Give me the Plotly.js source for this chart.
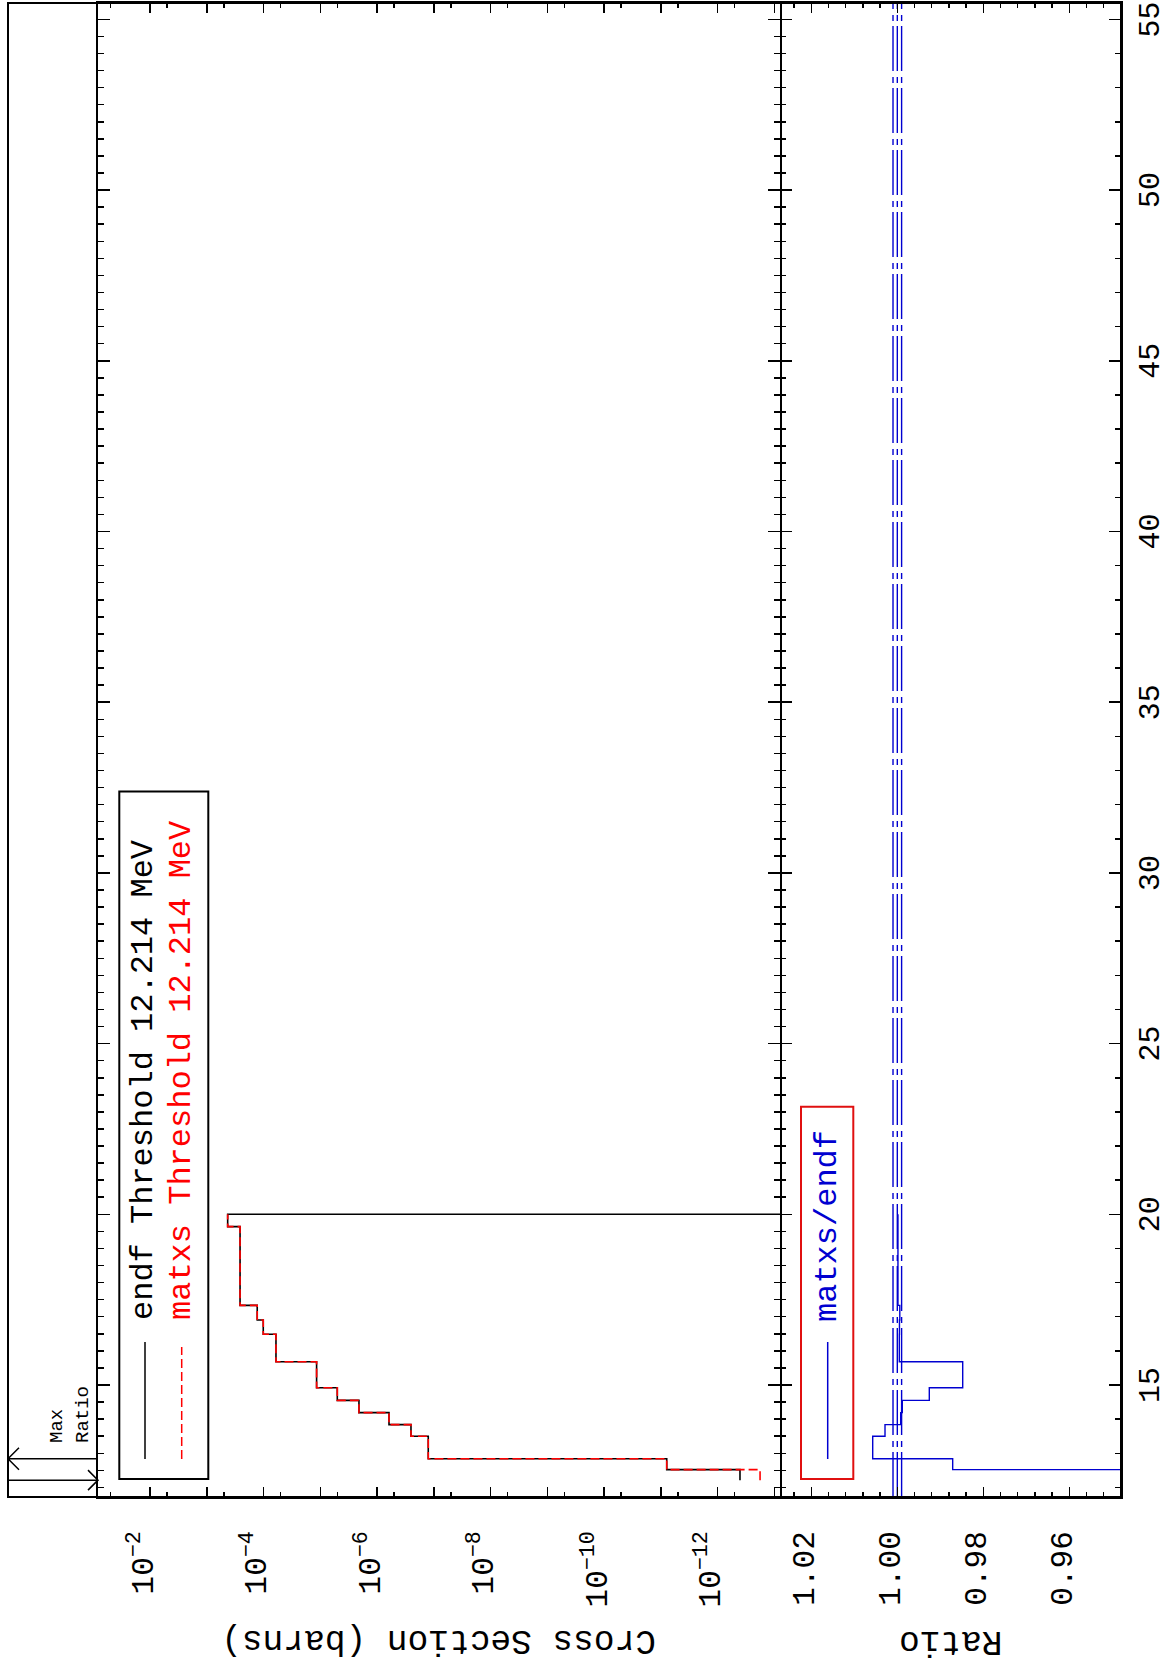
<!DOCTYPE html>
<html>
<head>
<meta charset="utf-8">
<script src="https://cdn.plot.ly/plotly-3.0.1.min.js"></script>
<style>
html,body{margin:0;padding:0;background:#fff;overflow:hidden;width:1167px;height:1663px;}
#wrap{position:absolute;left:0;top:0;width:1663px;height:1167px;transform-origin:0 0;transform:translate(0px,1663px) rotate(-90deg);}
#plot{width:1663px;height:1167px;}
</style>
</head>
<body>
<div id="wrap"><div id="plot"></div></div>
<script>
// ---------------- data ----------------
const energyRange = [11.72, 55.48];           // MeV
const xsRangeLog = [-13.101, -1.0837];        // log10(barns)
const ratioRange = [0.94798, 1.02728];

// group boundaries (MeV)
const groupEdges = [12.214, 12.523, 12.840, 13.499, 13.840, 14.191, 14.550, 14.918, 15.683, 16.487, 16.905, 17.333, 19.640, 20.000];
// group cross sections (barns)
const endfXS  = [4.02e-13, 7.85e-12, 1.25e-7, 2.52e-7, 6.15e-7, 2.08e-6, 5.01e-6, 1.16e-5, 6.03e-5, 1.01e-4, 1.29e-4, 2.59e-4, 4.28e-4];
const endfAbove20 = 1e-30; // endf drops out of the plot above 20 MeV
const matxsXS = [1.78e-13, 7.85e-12, 1.25e-7, 2.52e-7, 6.15e-7, 2.08e-6, 5.01e-6, 1.16e-5, 6.03e-5, 1.01e-4, 1.29e-4, 2.59e-4, 4.28e-4];
// matxs/endf ratio per group
const ratioVals = [0.443, 0.98712, 1.00572, 1.00286, 0.99921, 0.99884, 0.99256, 0.98479, 0.99953, 0.99950, 0.99942, 0.99985, 0.99985];
// reference levels in the ratio panel
const refLevels = [1.001, 1.000, 0.999];

// ticks
const xsLabelVals = [1e-2, 1e-4, 1e-6, 1e-8, 1e-10, 1e-12];
const xsLabelText = ['10<sup>\u22122</sup>', '10<sup>\u22124</sup>', '10<sup>\u22126</sup>', '10<sup>\u22128</sup>', '10<sup>\u221210</sup>', '10<sup>\u221212</sup>'];
const xsOddDecades = [1e-3, 1e-5, 1e-7, 1e-9, 1e-11, 1e-13];
const xsMinorVals = [5e-2,5e-3,5e-4,5e-5,5e-6,5e-7,5e-8,5e-9,5e-10,5e-11,5e-12,5e-13,5e-14];
const ratioTickVals = [0.96, 0.98, 1.00, 1.02];
const ratioTickText = ['0.96', '0.98', '1.00', '1.02'];

// legend / labels
const legendEndf  = 'endf Threshold 12.214 MeV';
const legendMatxs = 'matxs Threshold 12.214 MeV';
const legendRatio = 'matxs/endf';
const maxRatioE = 12.840;   // energy of maximum ratio (up arrow)
const minRatioE = 12.214;   // energy of minimum ratio (down arrow)

// ---------------- layout geometry ----------------
const W = 1663, H = 1167, L = 166, R = 3, T = 98, B = 46;
const plotW = W - L - R, plotH = H - T - B;
const splitPx = 780;                          // divider between panels (px from top)
const dom = (H - B - splitPx) / plotH;
const frameTopPx = 8;
const px = p => (p - L) / plotW;              // pixel -> paper x
const py = p => (H - B - p) / plotH;          // pixel -> paper y
const e2px = e => L + (e - energyRange[0]) / (energyRange[1] - energyRange[0]) * plotW;

const BLACK = '#000000', RED = '#ff0000', BLUE = '#0000d0';
const MONO = 'Liberation Mono';

function stepTrace(xs, vals, extra) {
  const x = xs.slice();
  const y = vals.slice();
  y.push(vals[vals.length - 1]);
  if (extra !== undefined) { x.push(xs[xs.length - 1]); y.push(extra); }
  return {x, y};
}

const endfStep = stepTrace(groupEdges, endfXS, endfAbove20);
const matxsStep = stepTrace(groupEdges, matxsXS);
const ratioStep = stepTrace(groupEdges, ratioVals);

const traces = [
  {x: endfStep.x, y: endfStep.y, xaxis: 'x', yaxis: 'y', mode: 'lines',
   line: {shape: 'hv', color: BLACK, width: 1.6}, hoverinfo: 'skip', showlegend: false},
  {x: matxsStep.x, y: matxsStep.y, xaxis: 'x', yaxis: 'y', mode: 'lines',
   line: {shape: 'hv', color: RED, width: 1.6, dash: '9px,4px'}, hoverinfo: 'skip', showlegend: false}
];
refLevels.forEach(lv => {
  traces.push({x: energyRange, y: [lv, lv], xaxis: 'x2', yaxis: 'y2', mode: 'lines',
    line: {color: BLUE, width: 1.4, dash: '45px,5px,6px,6px'}, hoverinfo: 'skip', showlegend: false});
});
traces.push({x: ratioStep.x, y: ratioStep.y, xaxis: 'x2', yaxis: 'y2', mode: 'lines',
  line: {shape: 'hv', color: BLUE, width: 1.4}, hoverinfo: 'skip', showlegend: false});
// helper traces so that the overlaying tick-only axes are drawn
traces.push({x: [], y: [], xaxis: 'x3', yaxis: 'y2', mode: 'lines', showlegend: false, hoverinfo: 'skip'});
traces.push({x: [], y: [], xaxis: 'x', yaxis: 'y3', mode: 'lines', showlegend: false, hoverinfo: 'skip'});

const tickCommon = {ticks: 'inside', tickcolor: BLACK, tickwidth: 1.5, showline: true, linecolor: BLACK,
  linewidth: 2, showgrid: false, zeroline: false};
const tickFont = {family: MONO, size: 31, color: BLACK};

const layout = {
  width: W, height: H,
  margin: {l: L, r: R, t: T, b: B, pad: 0},
  paper_bgcolor: '#ffffff', plot_bgcolor: 'rgba(0,0,0,0)',
  showlegend: false,
  xaxis: Object.assign({}, tickCommon, {domain: [0, 1], anchor: 'y', range: energyRange, tick0: 0, dtick: 5,
    ticklen: 12, mirror: 'ticks', showticklabels: false,
    minor: {tick0: 0, dtick: 0.5, ticks: 'inside', ticklen: 6, tickwidth: 1.5, tickcolor: BLACK, showgrid: false}}),
  xaxis2: Object.assign({}, tickCommon, {domain: [0, 1], anchor: 'y2', range: energyRange, tick0: 0, dtick: 5,
    ticklen: 12, mirror: false, showticklabels: true, tickfont: {family: MONO, size: 30, color: BLACK}, ticklabelstandoff: 0,
    minor: {tick0: 0, dtick: 1, ticks: 'inside', ticklen: 6, tickwidth: 1.5, tickcolor: BLACK, showgrid: false}}),
  xaxis3: {overlaying: 'x2', anchor: 'y2', side: 'top', range: energyRange, tick0: 0, dtick: 5,
    ticks: 'inside', ticklen: 12, tickwidth: 1.5, tickcolor: BLACK, showline: false, showgrid: false,
    zeroline: false, showticklabels: false,
    minor: {tick0: 0, dtick: 0.5, ticks: 'inside', ticklen: 6, tickwidth: 1.5, tickcolor: BLACK, showgrid: false}},
  yaxis: Object.assign({}, tickCommon, {domain: [dom, 1], anchor: 'x', type: 'log', range: xsRangeLog,
    tickmode: 'array', tickvals: xsLabelVals, ticktext: xsLabelText, ticklen: 10, mirror: 'ticks',
    tickfont: tickFont, ticklabelstandoff: 26, ticklabelshift: -8,
    minor: {tickmode: 'array', tickvals: xsMinorVals, ticks: 'inside', ticklen: 5, tickwidth: 1.5, tickcolor: BLACK, showgrid: false}}),
  yaxis3: {overlaying: 'y', anchor: 'x', side: 'left', type: 'log', range: xsRangeLog,
    tickmode: 'array', tickvals: xsOddDecades, ticks: 'inside', ticklen: 10, tickwidth: 1.5, tickcolor: BLACK,
    showline: false, mirror: 'ticks', showgrid: false, zeroline: false, showticklabels: false},
  yaxis2: Object.assign({}, tickCommon, {domain: [0, dom], anchor: 'x2', range: ratioRange,
    tickmode: 'array', tickvals: ratioTickVals, ticktext: ratioTickText, ticklen: 10, mirror: 'ticks',
    tickfont: tickFont, ticklabelstandoff: 26, ticklabelshift: -8,
    minor: {tick0: 0, dtick: 0.004, ticks: 'inside', ticklen: 5, tickwidth: 1.5, tickcolor: BLACK, showgrid: false}}),
  shapes: [],
  annotations: []
};

// outer frame (strip above the upper panel)
layout.shapes.push({type: 'rect', xref: 'paper', yref: 'paper', x0: 0, x1: 1, y0: 0, y1: py(frameTopPx),
  line: {color: BLACK, width: 2}, fillcolor: 'rgba(0,0,0,0)'});

// Max ratio arrows
const xUp = e2px(maxRatioE), xDown = e2px(minRatioE);
const head = 11;
layout.shapes.push({type: 'path', xref: 'paper', yref: 'paper', line: {color: BLACK, width: 1.5},
  path: `M ${px(xUp)},${py(T)} L ${px(xUp)},${py(frameTopPx)} M ${px(xUp - head)},${py(frameTopPx + head)} L ${px(xUp)},${py(frameTopPx)} L ${px(xUp + head)},${py(frameTopPx + head)}`});
layout.shapes.push({type: 'path', xref: 'paper', yref: 'paper', line: {color: BLACK, width: 1.5},
  path: `M ${px(xDown)},${py(frameTopPx)} L ${px(xDown)},${py(T)} M ${px(xDown - 10)},${py(T - 10)} L ${px(xDown)},${py(T)} L ${px(xDown + 10)},${py(T - 10)}`});
layout.annotations.push({xref: 'paper', yref: 'paper', x: px(219), y: py(57), xanchor: 'left', yanchor: 'middle',
  text: 'Max', showarrow: false, borderpad: 0, font: {family: MONO, size: 19, color: BLACK}});
layout.annotations.push({xref: 'paper', yref: 'paper', x: px(219), y: py(83), xanchor: 'left', yanchor: 'middle',
  text: 'Ratio', showarrow: false, borderpad: 0, font: {family: MONO, size: 19, color: BLACK}});

// upper legend box
layout.shapes.push({type: 'rect', xref: 'paper', yref: 'paper', x0: px(184), x1: px(871.5), y0: py(208.3), y1: py(119.3),
  line: {color: BLACK, width: 2}, fillcolor: 'rgba(0,0,0,0)'});
layout.shapes.push({type: 'line', xref: 'paper', yref: 'paper', x0: px(204), x1: px(321), y0: py(145), y1: py(145),
  line: {color: BLACK, width: 1.5}});
layout.shapes.push({type: 'line', xref: 'paper', yref: 'paper', x0: px(204), x1: px(316), y0: py(181.7), y1: py(181.7),
  line: {color: RED, width: 1.5, dash: '9px,4px'}});
layout.annotations.push({xref: 'paper', yref: 'paper', x: px(342), y: py(144), xanchor: 'left', yanchor: 'middle',
  text: legendEndf, showarrow: false, borderpad: 0, font: {family: MONO, size: 32, color: BLACK}});
layout.annotations.push({xref: 'paper', yref: 'paper', x: px(342), y: py(181), xanchor: 'left', yanchor: 'middle',
  text: legendMatxs, showarrow: false, borderpad: 0, font: {family: MONO, size: 32, color: RED}});

// ratio legend box
layout.shapes.push({type: 'rect', xref: 'paper', yref: 'paper', x0: px(184), x1: px(556.3), y0: py(853.3), y1: py(801),
  line: {color: '#e01010', width: 2}, fillcolor: 'rgba(0,0,0,0)'});
layout.shapes.push({type: 'line', xref: 'paper', yref: 'paper', x0: px(204), x1: px(321), y0: py(827.7), y1: py(827.7),
  line: {color: BLUE, width: 1.5}});
layout.annotations.push({xref: 'paper', yref: 'paper', x: px(340), y: py(827), xanchor: 'left', yanchor: 'middle',
  text: legendRatio, showarrow: false, borderpad: 0, font: {family: MONO, size: 32, color: BLUE}});

// axis titles
layout.annotations.push({xref: 'paper', yref: 'paper', x: px(22), y: (dom + 1) / 2, xanchor: 'center', yanchor: 'middle',
  text: 'Cross Section (barns)', textangle: -90, showarrow: false, font: {family: MONO, size: 34.5, color: BLACK}});
layout.annotations.push({xref: 'paper', yref: 'paper', x: px(22), y: dom / 2, xanchor: 'center', yanchor: 'middle',
  text: 'Ratio', textangle: -90, showarrow: false, font: {family: MONO, size: 34.5, color: BLACK}});

Plotly.newPlot('plot', traces, layout, {displayModeBar: false, staticPlot: true});
</script>
</body>
</html>
